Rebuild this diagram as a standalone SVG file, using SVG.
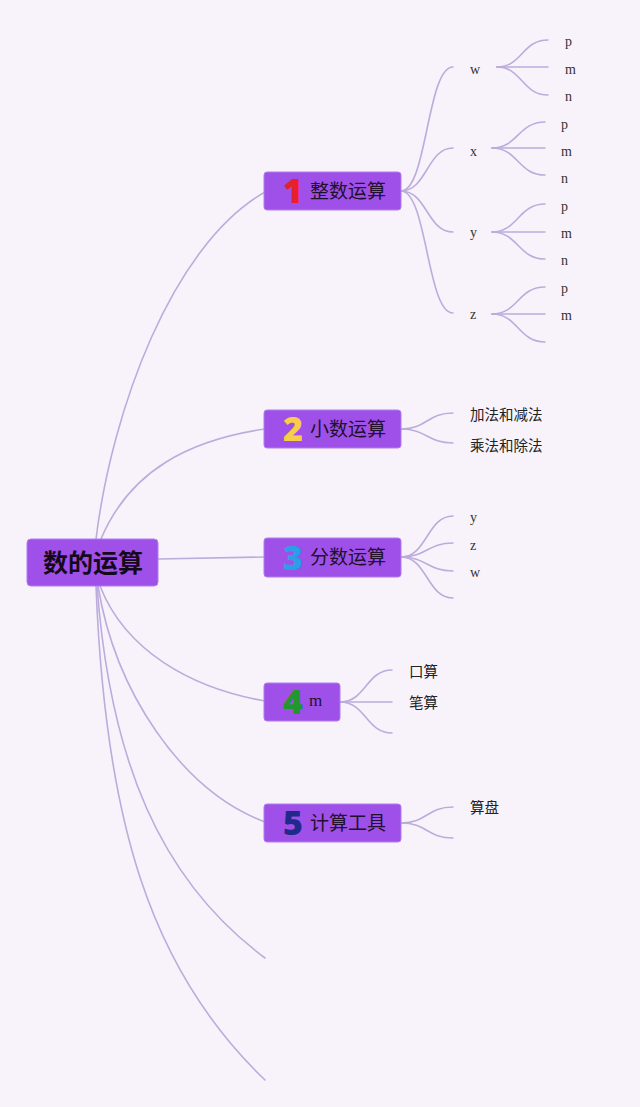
<svg xmlns="http://www.w3.org/2000/svg" width="640" height="1107" viewBox="0 0 640 1107">
<style>
.bg{fill:#f8f3fb}
.node{fill:#9f50e8;stroke:#b07cf0;stroke-width:1}
.lk{fill:none;stroke:#bcacdc;stroke-width:1.6;stroke-linecap:round}
.num{font-family:"Noto Sans","DejaVu Sans",sans-serif;font-weight:900;font-size:34px;text-anchor:middle}
.lbl{font-family:"Noto Sans CJK SC","Noto Sans",sans-serif;font-size:19px;fill:#21102e}
.root{font-family:"Noto Sans CJK SC","Noto Sans",sans-serif;font-size:25px;font-weight:bold;fill:#140a1c;text-anchor:middle}
.cjk{font-family:"Noto Sans CJK SC","Noto Sans",sans-serif;font-size:14.5px;fill:#222}
.ser{font-family:"Liberation Serif","Times New Roman",serif;font-size:14px;fill:#333}
</style>
<rect class="bg" x="0" y="0" width="640" height="1107"/>
<g id="connectors">
<path class="lk" d="M96,539 C112,410 172,245 265,192"/>
<path class="lk" d="M101,539 C130,470 190,440 265,429"/>
<path class="lk" d="M158,559 L265,557"/>
<path class="lk" d="M100,586 C125,650 190,688 265,701"/>
<path class="lk" d="M98,586 C115,690 180,790 265,822"/>
<path class="lk" d="M97,586 C110,760 160,880 265,958"/>
<path class="lk" d="M96,586 C105,820 150,970 265,1080"/>
<path class="lk" d="M401,191 C427,191 427,67 453,67"/>
<path class="lk" d="M401,191 C427,191 427,148 453,148"/>
<path class="lk" d="M401,191 C427,191 427,232 453,232"/>
<path class="lk" d="M401,191 C427,191 427,313 453,313"/>
<path class="lk" d="M497,67 C522,67 522,40 548,40"/>
<path class="lk" d="M497,67 L548,67"/>
<path class="lk" d="M497,67 C522,67 522,95 548,95"/>
<path class="lk" d="M492,148 C518,148 518,122 545,122"/>
<path class="lk" d="M492,148 L545,148"/>
<path class="lk" d="M492,148 C518,148 518,175 545,175"/>
<path class="lk" d="M492,232 C518,232 518,204 545,204"/>
<path class="lk" d="M492,232 L545,232"/>
<path class="lk" d="M492,232 C518,232 518,259 545,259"/>
<path class="lk" d="M492,314 C518,314 518,287 545,287"/>
<path class="lk" d="M492,314 L545,314"/>
<path class="lk" d="M492,314 C518,314 518,342 545,342"/>
<path class="lk" d="M401,429 C427,429 427,413 453,413"/>
<path class="lk" d="M401,429 C427,429 427,443 453,443"/>
<path class="lk" d="M401,557 C427,557 427,516 453,516"/>
<path class="lk" d="M401,557 C427,557 427,543 453,543"/>
<path class="lk" d="M401,557 C427,557 427,571 453,571"/>
<path class="lk" d="M401,557 C427,557 427,598 453,598"/>
<path class="lk" d="M340,702 C366,702 366,670 392,670"/>
<path class="lk" d="M340,702 L392,702"/>
<path class="lk" d="M340,702 C366,702 366,733 392,733"/>
<path class="lk" d="M401,823 C427,823 427,807 453,807"/>
<path class="lk" d="M401,823 C427,823 427,838 453,838"/>
</g>
<g id="root">
<rect class="node" x="27" y="539" width="131" height="47" rx="4"/>
<text class="root" x="93" y="572">数的运算</text>
</g>
<g id="n1">
<rect class="node" x="264" y="172" width="137" height="38" rx="3"/>
<text class="num" x="293" y="203" fill="#e8202a">1</text>
<text class="lbl" x="310" y="198">整数运算</text>
</g>
<g id="n2">
<rect class="node" x="264" y="410" width="137" height="38" rx="3"/>
<text class="num" x="293" y="441" fill="#f7cd4a">2</text>
<text class="lbl" x="310" y="436">小数运算</text>
</g>
<g id="n3">
<rect class="node" x="264" y="538" width="137" height="39" rx="3"/>
<text class="num" x="293" y="570" fill="#2a9ee6">3</text>
<text class="lbl" x="310" y="564">分数运算</text>
</g>
<g id="n4">
<rect class="node" x="264" y="683" width="76" height="38" rx="3"/>
<text class="num" x="293" y="714" fill="#23962e">4</text>
<text class="ser" x="309" y="706" style="font-size:17px;fill:#21102e">m</text>
</g>
<g id="n5">
<rect class="node" x="264" y="804" width="137" height="38" rx="3"/>
<text class="num" x="293" y="835" fill="#1f2a8a">5</text>
<text class="lbl" x="310" y="830">计算工具</text>
</g>
<g id="n1-children">
<text class="ser" x="470" y="74">w</text>
<text class="ser" x="470" y="156">x</text>
<text class="ser" x="470" y="237">y</text>
<text class="ser" x="470" y="319">z</text>
<text class="ser" x="565" y="46">p</text>
<text class="ser" x="565" y="74">m</text>
<text class="ser" x="565" y="101">n</text>
<text class="ser" x="561" y="129">p</text>
<text class="ser" x="561" y="156">m</text>
<text class="ser" x="561" y="183">n</text>
<text class="ser" x="561" y="211">p</text>
<text class="ser" x="561" y="238">m</text>
<text class="ser" x="561" y="265">n</text>
<text class="ser" x="561" y="293">p</text>
<text class="ser" x="561" y="320">m</text>
</g>
<g id="n2-children">
<text class="cjk" x="470" y="420">加法和减法</text>
<text class="cjk" x="470" y="451">乘法和除法</text>
</g>
<g id="n3-children">
<text class="ser" x="470" y="522">y</text>
<text class="ser" x="470" y="550">z</text>
<text class="ser" x="470" y="577">w</text>
</g>
<g id="n4-children">
<text class="cjk" x="409" y="677">口算</text>
<text class="cjk" x="409" y="708">笔算</text>
</g>
<g id="n5-children">
<text class="cjk" x="470" y="813">算盘</text>
</g>
</svg>
